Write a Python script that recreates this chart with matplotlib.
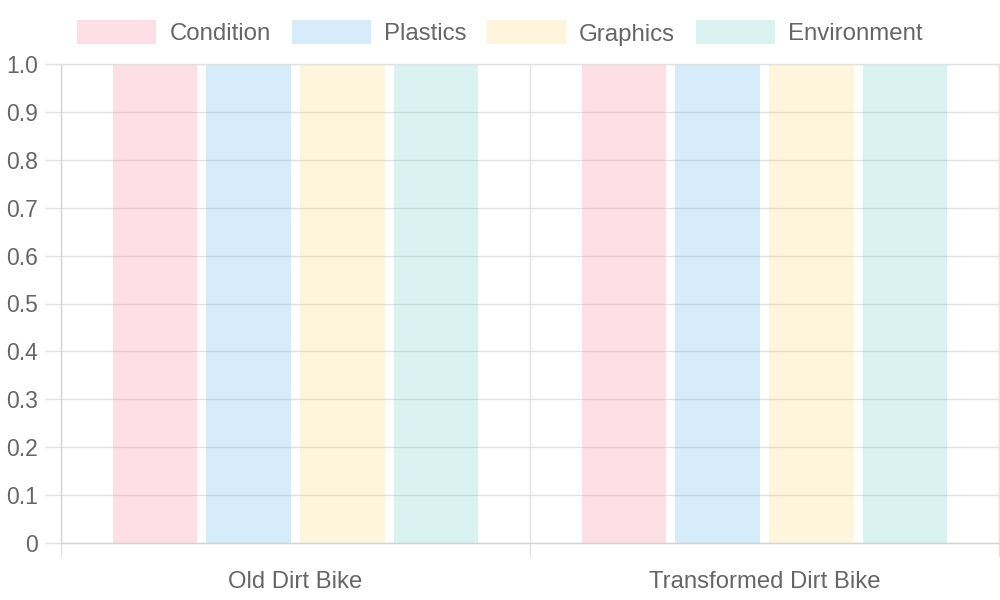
import matplotlib
matplotlib.use("Agg")
import matplotlib.pyplot as plt
from matplotlib.patches import Rectangle
import numpy as np

categories = ["Old Dirt Bike", "Transformed Dirt Bike"]
series_names = ["Condition", "Plastics", "Graphics", "Environment"]
condition = [1.0, 1.0]
plastics = [1.0, 1.0]
graphics = [1.0, 1.0]
environment = [1.0, 1.0]
series_values = [condition, plastics, graphics, environment]
series_colors = ["#ff6384", "#36a2eb", "#ffce56", "#4bc0c0"]
y_ticks = [0, 0.1, 0.2, 0.3, 0.4, 0.5, 0.6, 0.7, 0.8, 0.9, 1.0]
y_tick_labels = ["0", "0.1", "0.2", "0.3", "0.4", "0.5", "0.6", "0.7", "0.8", "0.9", "1.0"]

plt.rcParams['font.family'] = ['Liberation Sans', 'DejaVu Sans']
TEXT = "#666666"
GRID = "#e2e2e2"
AXIS = "#d4d4d4"

W, H = 1000, 600
fig = plt.figure(figsize=(10, 6), dpi=100)
ax = fig.add_axes([61 / W, 1 - 543 / H, (999 - 61) / W, (543 - 64) / H])

n = len(series_names)
x = np.arange(len(categories))
group = 0.8
slot = group / n
bw = slot * 0.9
for j, (name, vals, col) in enumerate(zip(series_names, series_values, series_colors)):
    pos = x - group / 2 + slot / 2 + j * slot
    ax.bar(pos, vals, width=bw, color=col, alpha=0.2, linewidth=0, zorder=2)

ax.set_xlim(-0.5, len(categories) - 0.5)
ax.set_ylim(0, 1.0)
ax.set_axisbelow(True)

ax.set_yticks(y_ticks)
ax.set_yticklabels(y_tick_labels)
ax.tick_params(axis='y', length=11.5, width=1, color=GRID, pad=5, labelsize=16.5, labelcolor=TEXT)
ax.grid(axis='y', color=GRID, linewidth=1)

ax.set_xticks(x)
ax.set_xticklabels(categories)
ax.set_xticks(np.arange(len(categories) + 1) - 0.5, minor=True)
ax.tick_params(axis='x', which='major', length=0, pad=20.5, labelsize=17.2, labelcolor=TEXT)
ax.tick_params(axis='x', which='minor', length=10, width=1, color=GRID)
ax.grid(axis='x', which='minor', color=GRID, linewidth=1)

for s in ['top', 'right']:
    ax.spines[s].set_color(GRID)
for s in ['left', 'bottom']:
    ax.spines[s].set_color(AXIS)
for s in ax.spines.values():
    s.set_linewidth(1)

# Legend (Chart.js style, centered on top)
box_w, box_h = 79, 24
gap_text, gap_item = 13, 21
legend_fs = 17.3
renderer = fig.canvas.get_renderer()
widths = []
for name in series_names:
    t = fig.text(0, 0, name, fontsize=legend_fs)
    bb = t.get_window_extent(renderer=renderer)
    widths.append(bb.width)
    t.remove()
total = sum(box_w + gap_text + w for w in widths) + gap_item * (n - 1)
xcur = (W - total) / 2
yc = 32
baseline = 40.5
for name, col, w in zip(series_names, series_colors, widths):
    fig.patches.append(Rectangle((xcur / W, 1 - (yc + box_h / 2) / H), box_w / W, box_h / H,
                                 transform=fig.transFigure, facecolor=col, alpha=0.2,
                                 linewidth=0))
    fig.text((xcur + box_w + gap_text) / W, 1 - baseline / H, name, fontsize=legend_fs,
             color=TEXT, va='baseline', ha='left')
    xcur += box_w + gap_text + w + gap_item

fig.savefig("out.png", dpi=100, facecolor="white")
